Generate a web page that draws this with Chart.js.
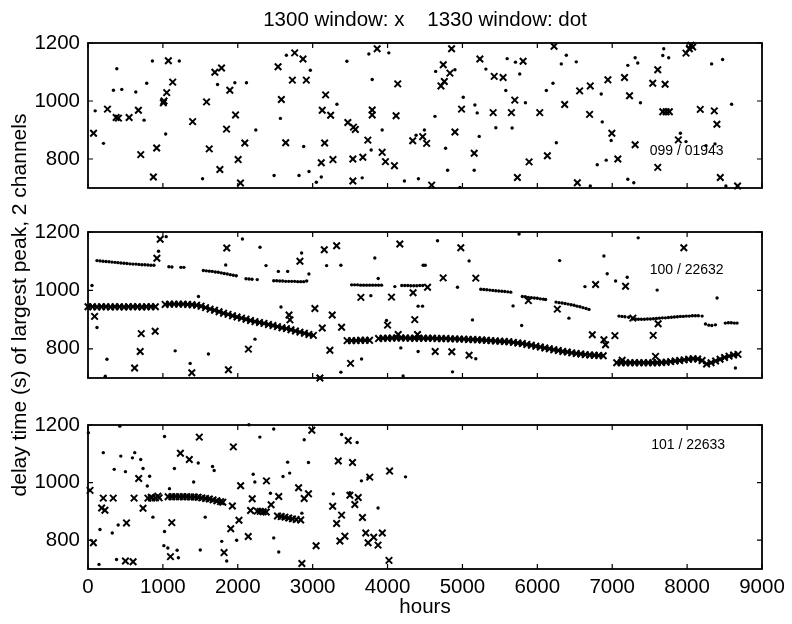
<!DOCTYPE html>
<html>
<head>
<meta charset="utf-8">
<script src="https://cdn.jsdelivr.net/npm/chart.js@4.4.0/dist/chart.umd.min.js"></script>
<style>
  body { margin: 0; background: #fff; }
  #wrap { position: relative; width: 792px; height: 624px; }
  #wrap canvas { position: absolute; left: 0; top: 0; }
</style>
</head>
<body>
<div id="wrap">
  <canvas id="top" width="792" height="624"></canvas>
  <canvas id="mid" width="792" height="624"></canvas>
  <canvas id="low" width="792" height="624"></canvas>
</div>
<script>
// axis ticks
const hourTicks = [0, 1000, 2000, 3000, 4000, 5000, 6000, 7000, 8000, 9000];
const delayTicks = [800, 1000, 1200];
const stationLabels = ['099 / 01943', '100 / 22632', '101 / 22633'];

// [hours, delay] pairs
// panel 099 / 01943
const topCross = [[74,889],[260,972],[376,943],[407,941],[549,943],[673,968],[704,815],[873,738],[917,838],[1006,994],[1015,1000],
  [1051,1029],[1073,1139],[1131,1065],[1397,929],[1583,997],[1619,835],[1694,1099],[1783,1114],[1761,764],[1850,903],[1894,1037],
  [1970,952],[2005,798],[2036,717],[2094,855],[2538,1118],[2582,1005],[2640,856],[2729,1072],[2760,1166],[2871,1145],[2915,1072],
  [3115,787],[3128,968],[3160,855],[3173,1021],[3240,951],[3271,798],[3470,926],[3545,910],[3570,902],[3537,800],[3670,806],
  [3737,865],[3795,969],[3795,952],[3861,1180],[3928,823],[3972,791],[4092,777],[4136,1059],[4114,949],[4336,863],[3537,724],[4469,877],
  [4855,1180],[4744,1125],[4833,1096],[4758,1067],[4713,1052],[5233,1145],[4988,972],[5424,1085],[5543,1081],[5410,960],[5654,960],
  [5699,1003],[5810,1137],[6032,960],[6223,1189],[6365,988],[6565,1035],[6707,1052],[6698,954],[6942,1073],[7164,1081],[7231,1018],
  [7306,849],[6995,889],[7075,800],[7541,1061],[7706,1058],[7608,1108],[7675,963],[7720,963],[7763,963],[7883,866],[8176,971],
  [8363,966],[8398,920],[8030,1180],[7985,1165],[8074,1186],[8050,1192],[7608,771],[8443,736],[8674,707],[5157,820],[4900,893],
  [5890,790],[6134,811],[5734,736],[6534,718],[4589,710],[4522,854]];
const topDot = [[96,966],[207,854],[385,1111],[340,1037],[451,1040],[638,1031],[749,934],[784,1061],[860,1138],[1037,886],[1219,1138],
  [1530,732],[1730,1057],[1961,1063],[2116,1063],[2241,900],[2485,743],[2569,940],[2649,1158],[2818,743],[2880,843],[2951,757],
  [2969,1106],[3049,720],[3115,738],[3324,989],[3457,1137],[3661,735],[3750,1162],[3795,1074],[3781,831],[3928,900],[4017,1166],
  [4225,724],[4412,732],[4381,882],[4492,900],[4642,1102],[4900,1108],[5011,1013],[4633,947],[5166,986],[5197,959],[5313,1110],
  [5597,1146],[5708,1134],[5765,1093],[5579,1036],[5841,994],[5446,908],[5663,907],[5224,878],[4775,837],[4802,761],[5157,761],
  [6320,1128],[6387,1158],[6520,1135],[6209,1061],[6120,1036],[6254,856],[6853,1024],[6867,928],[6986,864],[6800,780],[6920,796],
  [7208,1123],[7306,1149],[7341,1131],[7377,994],[7208,730],[7288,718],[7688,1180],[7675,1157],[7754,1149],[7910,889],[7985,860],
  [8327,1128],[8474,1143],[8594,989],[8252,846],[8372,852],[8518,707],[6707,707],[4966,702]];

// panel 100 / 22632
const midCross = [[88,911],[711,852],[897,860],[697,791],[622,734],[964,1175],[920,1110],[1386,718],[1853,1145],[1875,728],[2142,799],
  [2684,916],[2697,899],[2830,1100],[3030,938],[3097,700],[3128,871],[3155,1139],[3320,1153],[3261,916],[3386,874],[3230,795],
  [3506,750],[3644,976],[4053,977],[4164,1159],[4341,992],[4363,900],[4000,881],[4142,849],[4400,849],[4534,1011],[4743,1043],
  [4978,1146],[5178,1042],[5880,965],[6267,936],[4636,791],[4858,790],[5089,778],[6734,848],[6889,831],[6911,814],[7036,845],
  [6778,1020],[7178,1014],[7276,905],[7547,846],[7613,886],[7956,1146],[7133,761],[7578,774]];
const midCrossBand = [[0,944],[60,944],[120,943],[180,944],[240,944],[300,943],[360,944],[420,944],[480,943],[540,944],[600,944],
  [660,944],[720,943],[780,944],[840,944],[900,944],[1030,952],[1090,953],[1150,953],[1210,953],[1270,953],[1330,952],[1390,951],
  [1450,949],[1510,946],[1570,941],[1630,936],[1690,932],[1750,927],[1810,922],[1870,918],[1930,913],[1990,909],[2050,905],
  [2110,901],[2170,897],[2230,893],[2290,890],[2350,887],[2410,883],[2470,880],[2530,876],[2590,872],[2650,869],[2710,865],
  [2770,861],[2830,857],[2890,853],[2950,849],[3010,846],[3460,828],[3520,828],[3580,828],[3640,829],[3700,829],[3760,829],
  [3880,835],[3940,836],[4000,836],[4060,837],[4120,837],[4180,837],[4240,837],[4300,836],[4360,836],[4420,836],[4480,836],
  [4540,836],[4600,836],[4660,835],[4720,835],[4780,835],[4840,834],[4900,834],[4960,833],[5020,833],[5080,832],[5140,832],
  [5200,831],[5260,830],[5320,829],[5380,828],[5440,827],[5500,826],[5560,825],[5620,824],[5680,822],[5740,820],[5800,818],
  [5860,815],[5920,812],[5980,809],[6040,806],[6100,803],[6160,800],[6220,797],[6280,794],[6340,791],[6400,789],[6460,786],
  [6520,784],[6580,782],[6640,780],[6700,779],[6760,778],[6820,777],[6880,776],[7060,752],[7120,752],[7180,752],[7240,752],
  [7300,752],[7360,752],[7420,752],[7480,752],[7540,752],[7600,752],[7660,753],[7720,754],[7780,756],[7840,758],[7900,760],
  [7960,762],[8020,764],[8080,766],[8140,765],[8200,760],[8260,748],[8320,752],[8380,758],[8440,764],[8500,770],[8560,775],
  [8620,779],[8680,781]];
const midDot = [[53,1017],[120,873],[253,764],[231,706],[942,1134],[1044,1184],[1164,793],[1475,979],[1364,750],[1608,782],
  [1839,1087],[2062,1176],[2297,1148],[2377,1085],[2542,1065],[2666,1065],[2577,943],[2230,833],[2852,1128],[2950,1056],
  [3186,1085],[3377,1086],[3377,720],[3653,765],[3830,1111],[3875,1041],[3777,982],[3986,897],[4097,1013],[4208,707],[4408,791],
  [4475,1086],[4177,803],[4408,946],[4667,1170],[4503,1086],[4467,946],[5089,1101],[4934,1011],[5134,899],[5676,947],[5791,880],
  [6298,1102],[6422,905],[6636,1013],[6889,1118],[6933,1057],[7045,1032],[7200,1045],[7600,1001],[7347,1180],[8400,974],
  [8645,734],[4867,721],[5178,766],[5756,1193]];
const midDotBand = [[30,947],[90,947],[150,946],[210,947],[270,947],[330,946],[390,947],[450,947],[510,946],[570,947],[630,947],
  [690,947],[750,946],[810,947],[870,947],[1060,955],[1120,955],[1180,955],[1240,955],[1300,955],[1360,954],[1420,952],[1480,949],
  [1540,945],[1600,940],[1660,935],[1720,931],[1780,926],[1840,921],[1900,917],[1960,912],[2020,908],[2080,904],[2140,900],
  [2200,896],[2260,893],[2320,890],[2380,886],[2440,883],[2500,879],[2560,875],[2620,872],[2680,868],[2740,864],[2800,860],
  [2860,856],[2920,852],[2980,848],[3490,830],[3550,830],[3610,831],[3670,831],[3730,831],[3910,838],[3970,839],[4030,839],
  [4090,839],[4150,839],[4210,839],[4270,839],[4330,838],[4390,838],[4450,838],[4510,838],[4570,838],[4630,837],[4690,837],
  [4750,837],[4810,836],[4870,836],[4930,835],[4990,835],[5050,834],[5110,834],[5170,833],[5230,832],[5290,831],[5350,830],
  [5410,829],[5470,828],[5530,827],[5590,826],[5650,824],[5710,822],[5770,820],[5830,818],[5890,815],[5950,812],[6010,809],
  [6070,806],[6130,803],[6190,800],[6250,797],[6310,794],[6370,792],[6430,789],[6490,787],[6550,785],[6610,783],[6670,782],
  [6730,781],[6790,780],[6850,779],[7090,754],[7150,754],[7210,754],[7270,754],[7330,754],[7390,754],[7450,754],[7510,754],
  [7570,755],[7630,755],[7690,756],[7750,757],[7810,759],[7870,761],[7930,763],[7990,765],[8050,767],[8110,767],[8170,763],
  [8230,752],[8290,750],[8350,755],[8410,761],[8470,767],[8530,772],[8590,777],[8650,780]];
const midDotUpper = [[120,1102],[160,1101],[200,1100],[240,1099],[280,1098],[320,1097],[360,1096],[400,1095],[440,1094],[480,1093],
  [520,1092],[560,1091],[600,1090],[640,1090],[680,1089],[720,1088],[760,1088],[800,1087],[840,1086],[880,1086],[1080,1081],
  [1120,1080],[1240,1079],[1280,1079],[1540,1068],[1580,1067],[1620,1066],[1660,1065],[1700,1063],[1740,1062],[1780,1060],
  [1820,1058],[1860,1056],[1900,1054],[1940,1052],[1980,1050],[2110,1040],[2150,1039],[2190,1038],[2260,1037],[2480,1033],
  [2520,1033],[2560,1032],[2600,1032],[2640,1031],[2680,1031],[2720,1031],[2760,1031],[2800,1030],[2840,1030],[2880,1030],
  [2920,1032],[3520,1019],[3560,1019],[3600,1019],[3640,1018],[3680,1018],[3720,1018],[3760,1018],[3800,1018],[3840,1018],
  [3880,1018],[3920,1018],[4190,1017],[4230,1017],[4270,1017],[4310,1016],[4350,1016],[4390,1016],[4430,1017],[4470,1017],
  [5245,1004],[5285,1003],[5325,1002],[5365,1001],[5405,1000],[5445,999],[5485,998],[5525,997],[5565,996],[5605,995],[5645,994],
  [5800,979],[5840,978],[5880,976],[5920,975],[5960,974],[6000,973],[6040,971],[6080,970],[6110,969],[6250,960],[6290,958],
  [6330,957],[6370,955],[6410,953],[6450,951],[6490,949],[6530,946],[6570,944],[6610,941],[6650,938],[6690,935],[7090,912],
  [7130,911],[7170,910],[7220,908],[7270,902],[7310,902],[7350,901],[7390,901],[7430,901],[7470,902],[7510,902],[7550,903],
  [7590,904],[7630,905],[7670,906],[7710,906],[7750,907],[7790,908],[7830,909],[7870,910],[7910,911],[7950,911],[7990,912],
  [8030,912],[8070,913],[8110,913],[8150,913],[8200,912],[8245,885],[8290,881],[8330,880],[8378,882],[8510,888],[8550,889],
  [8590,889],[8630,888],[8667,888]];

// panel 101 / 22633
const lowCross = [[27,973],[72,791],[204,946],[337,946],[182,912],[226,904],[514,860],[500,728],[602,725],[615,946],[735,911],
  [677,1014],[845,949],[933,953],[1119,861],[1101,743],[1234,1102],[1353,1080],[1486,1158],[1941,1124],[2038,989],[1928,919],
  [2016,869],[1906,840],[1817,757],[2193,944],[2171,903],[2140,813],[2383,1006],[2445,923],[2547,952],[2812,982],[2944,961],
  [2887,945],[2989,1182],[3046,781],[2856,719],[3342,1075],[3475,1146],[3532,1070],[3762,1019],[4027,1040],[3267,918],[3386,887],
  [3320,858],[3563,924],[3497,956],[3608,948],[3665,879],[3430,814],[3364,797],[3709,825],[3815,810],[3930,825],[3740,791],
  [3873,783],[4019,730]];
const lowCrossBand = [[800,946],[850,946],[900,947],[950,947],[1070,951],[1120,951],[1170,951],[1220,951],[1270,951],[1320,951],
  [1370,950],[1420,950],[1470,949],[1520,947],[1570,945],[1620,943],[1670,940],[1720,937],[1770,934],[1800,932],[2260,901],
  [2300,900],[2340,899],[2380,898],[2530,884],[2580,882],[2630,880],[2680,877],[2730,874],[2780,872],[2840,870]];
const lowDot = [[5,1173],[425,1196],[204,1104],[438,1092],[624,1104],[593,1086],[704,1080],[350,1046],[500,1038],[735,1049],
  [823,1022],[792,988],[160,837],[324,825],[403,853],[147,716],[381,733],[867,880],[1022,830],[1088,979],[1013,781],[1066,773],
  [1190,765],[1207,739],[1022,1160],[1154,1049],[1472,1068],[1411,1002],[1663,1056],[1685,1042],[1565,880],[1499,766],[1786,796],
  [1852,728],[1985,800],[2149,1201],[2295,1158],[2480,1186],[2206,1029],[2228,1002],[2436,963],[2604,1021],[2666,1071],
  [2693,1033],[2480,808],[2547,759],[2856,894],[2887,1149],[2944,1070],[3386,1167],[3594,1139],[3651,1006],[3740,1017],
  [3873,912],[3276,961],[4240,1020],[3497,965]];
const lowDotBand = [[1095,950],[1145,950],[1195,950],[1245,950],[1295,950],[1345,950],[1395,949],[1445,948],[1495,946],[1545,944],
  [1595,942],[1645,939],[1695,936],[1745,933],[2280,899],[2360,897],[2555,881],[2605,879],[2655,876],[2705,873]];

Chart.defaults.font.family = '"Liberation Sans", Arial, Helvetica, sans-serif';
Chart.defaults.color = '#000';

const toXY = list => list.map(p => ({x: p[0], y: p[1]}));

// box with inward ticks + station label
const framePlugin = {
  id: 'frame',
  afterDatasetsDraw(chart, args, opts) {
    const {ctx, chartArea: a} = chart;
    const x = chart.scales.x, y = chart.scales.y;
    ctx.save();
    ctx.strokeStyle = '#000';
    ctx.lineWidth = 1.8;
    ctx.strokeRect(a.left, a.top, a.right - a.left, a.bottom - a.top);
    ctx.lineWidth = 1.2;
    ctx.beginPath();
    hourTicks.forEach(v => {
      const px = x.getPixelForValue(v);
      ctx.moveTo(px, a.top); ctx.lineTo(px, a.top + 5);
      ctx.moveTo(px, a.bottom); ctx.lineTo(px, a.bottom - 5);
    });
    delayTicks.forEach(v => {
      const py = y.getPixelForValue(v);
      ctx.moveTo(a.left, py); ctx.lineTo(a.left + 5, py);
      ctx.moveTo(a.right, py); ctx.lineTo(a.right - 5, py);
    });
    ctx.stroke();
    if (opts.note) {
      ctx.font = '14px "Liberation Sans", Arial, sans-serif';
      ctx.fillStyle = '#000';
      ctx.textBaseline = 'middle';
      ctx.fillText(opts.note.text, x.getPixelForValue(opts.note.x), y.getPixelForValue(opts.note.y));
    }
    ctx.restore();
  }
};

function panel(id, crosses, dots, cfg) {
  const xScale = {
    type: 'linear', min: 0, max: 9000,
    display: cfg.xDisplay,
    position: cfg.xPosition || 'bottom',
    afterBuildTicks: s => { s.ticks = hourTicks.map(v => ({value: v})); },
    afterFit: s => { s.height = cfg.xHeight || 0; },
    grid: {display: false, drawTicks: false},
    border: {display: false},
    ticks: {display: cfg.xLabels, font: {size: 20.5}, padding: 6, maxRotation: 0, callback: v => String(v)},
    title: cfg.xTitle || {display: false}
  };
  return new Chart(document.getElementById(id), {
    type: 'scatter',
    data: {
      datasets: [
        {label: '1300 window: x', data: toXY(crosses), pointStyle: 'crossRot', pointRadius: 4.6,
         borderColor: '#000', backgroundColor: '#000', borderWidth: 2, clip: 5},
        {label: '1330 window: dot', data: toXY(dots), pointStyle: 'circle', pointRadius: 1.7,
         borderColor: '#000', backgroundColor: '#000', borderWidth: 0, clip: 3}
      ]
    },
    options: {
      responsive: false,
      animation: false,
      events: [],
      layout: {padding: {left: 0, right: 30, top: cfg.padTop, bottom: cfg.padBottom}},
      plugins: {
        legend: {display: false},
        tooltip: {enabled: false},
        frame: {note: cfg.note}
      },
      scales: {
        x: xScale,
        y: {
          type: 'linear', min: 700, max: 1200,
          afterBuildTicks: s => { s.ticks = delayTicks.map(v => ({value: v})); },
          afterFit: s => { s.width = 88; },
          grid: {display: false, drawTicks: false},
          border: {display: false},
          ticks: {font: {size: 20.5}, padding: 8, callback: v => String(v)},
          title: cfg.yTitle || {display: false}
        }
      }
    },
    plugins: [framePlugin]
  });
}

panel('top', topCross, topDot, {
  xDisplay: true, xPosition: 'top', xLabels: false, xHeight: 43,
  xTitle: {display: true, text: '1300 window: x    1330 window: dot', font: {size: 20.5}, padding: {top: 8, bottom: 0}},
  padTop: 0, padBottom: 624 - 188,
  note: {text: stationLabels[0], x: 7500, y: 826}
});

panel('mid', midCross.concat(midCrossBand), midDot.concat(midDotBand, midDotUpper), {
  xDisplay: false, xLabels: false,
  padTop: 232, padBottom: 624 - 378,
  yTitle: {display: true, text: 'delay time (s) of largest peak, 2 channels', font: {size: 21}, padding: {top: 8, bottom: 0}},
  note: {text: stationLabels[1], x: 7500, y: 1070}
});

panel('low', lowCross.concat(lowCrossBand), lowDot.concat(lowDotBand), {
  xDisplay: true, xLabels: true, xHeight: 55,
  xTitle: {display: true, text: 'hours', font: {size: 20.5}, padding: {top: 0, bottom: 4}},
  padTop: 425, padBottom: 0,
  note: {text: stationLabels[2], x: 7520, y: 1131}
});
</script>
</body>
</html>
